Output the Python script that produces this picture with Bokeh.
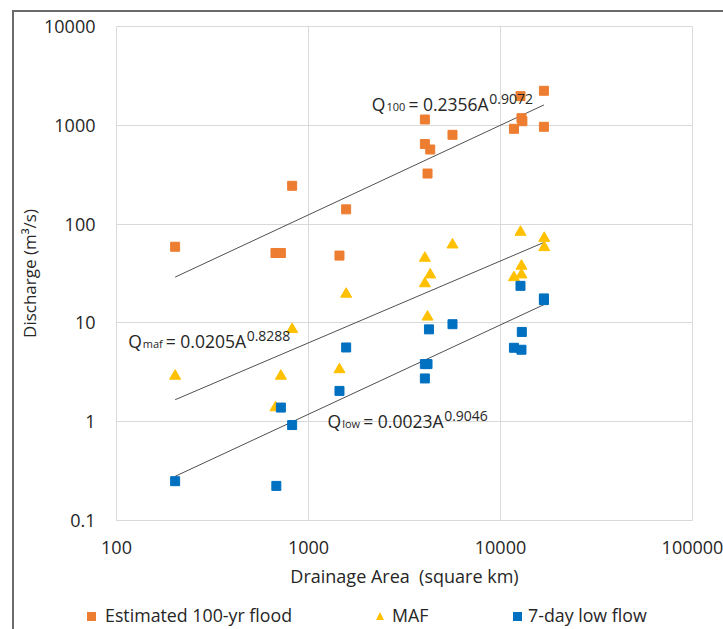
from bokeh.plotting import figure
from bokeh.models import (Range1d, FixedTicker, CustomJSTickFormatter, ColumnDataSource, Div)
from bokeh.layouts import column
from bokeh.core.properties import value
from bokeh.embed import file_html
from bokeh.resources import INLINE

# ---------------- data ----------------
flood_area = [202, 673, 718, 822, 1450, 1571, 4037, 4037, 4305, 4168, 5623, 11750, 12710, 12860, 13000, 16830, 16830]
flood_q = [59, 51, 51, 244, 48, 141, 1145, 646, 569, 325, 801, 922, 1973, 1180, 1100, 2234, 966]

maf_area = [202, 718, 673, 822, 1450, 1571, 4037, 4305, 4037, 5623, 4168, 12710, 12860, 12860, 11750, 16900, 16900]
maf_q = [2.9, 2.9, 1.39, 8.6, 3.37, 19.6, 45.3, 30.7, 25, 61.7, 11.5, 83, 37.6, 30.7, 28.8, 72, 58]

low_area = [202, 680, 718, 822, 1571, 1450, 4240, 5623, 4037, 4168, 4037, 12910, 11750, 12860, 12710, 16830, 16830]
low_q = [0.25, 0.224, 1.39, 0.925, 5.64, 2.05, 8.6, 9.7, 3.83, 3.83, 2.74, 8.1, 5.6, 5.35, 23.7, 17.7, 17.0]

# power-law fits  Q = c * A^b
fit_names = ["100", "maf", "low"]
fit_coef = [0.2356, 0.0205, 0.0023]
fit_exp = [0.9072, 0.8288, 0.9046]
fit_coef_text = ["0.2356", "0.0205", "0.0023"]
fit_exp_text = ["0.9072", "0.8288", "0.9046"]
# equation label anchors (data coords of the "Q" baseline start)
eq_anchor_area = [2138, 115, 1256]
eq_anchor_q = [1419, 5.73, 0.894]

x_ticks = [100, 1000, 10000, 100000]
x_tick_labels = ["100", "1000", "10000", "100000"]
y_ticks = [0.1, 1, 10, 100, 1000, 10000]
y_tick_labels = ["0.1", "1", "10", "100", "1000", "10000"]

legend_labels = ["Estimated 100-yr flood", "MAF", "7-day low flow"]

ORANGE = "#ED7D31"
GOLD = "#FFC000"
BLUE = "#0070C0"
TXT = "#262626"
FONT = "Open Sans"
W_FIG = 709
H_MAIN = 588
H_LEG = 29

p = figure(width=W_FIG, height=H_MAIN, x_axis_type="log", y_axis_type="log",
           x_range=Range1d(100, 100000), y_range=Range1d(0.1, 10000),
           output_backend="svg", toolbar_location=None,
           min_border_left=102, min_border_right=31, min_border_top=14, min_border_bottom=80)
p.background_fill_color = "white"
p.border_fill_color = "white"
p.outline_line_color = "#d9d9d9"
p.outline_line_width = 1

fmt_code = """
for (let j = 0; j < vals.length; j++) {
  if (Math.abs(vals[j] - tick) < 1e-6 * vals[j]) return labels[j];
}
return "";
"""
p.xaxis.ticker = FixedTicker(ticks=x_ticks, minor_ticks=[])
p.yaxis.ticker = FixedTicker(ticks=y_ticks, minor_ticks=[])
p.xaxis.formatter = CustomJSTickFormatter(args=dict(vals=x_ticks, labels=x_tick_labels), code=fmt_code)
p.yaxis.formatter = CustomJSTickFormatter(args=dict(vals=y_ticks, labels=y_tick_labels), code=fmt_code)

for ax in (p.xaxis, p.yaxis):
    ax.axis_line_color = None
    ax.major_tick_line_color = None
    ax.minor_tick_line_color = None
    ax.major_label_text_font = FONT
    ax.major_label_text_font_size = "18px"
    ax.major_label_text_color = TXT
    ax.axis_label_text_font = FONT
    ax.axis_label_text_font_style = "normal"
    ax.axis_label_text_color = TXT

p.yaxis.major_label_standoff = 15
p.yaxis.axis_label = "Discharge (m\u00b3/s)"
p.yaxis.axis_label_text_font_size = "17px"
p.yaxis.axis_label_standoff = 0
p.xaxis.major_label_standoff = 14
p.xaxis.axis_label = "Drainage Area\u00a0 (square km)"
p.xaxis.axis_label_text_font_size = "18px"
p.xaxis.axis_label_standoff = 7

p.xgrid.grid_line_color = "#d9d9d9"
p.ygrid.grid_line_color = "#d9d9d9"
p.xgrid.minor_grid_line_color = None
p.ygrid.minor_grid_line_color = None

# trend lines
all_areas = [flood_area, maf_area, low_area]
for c, b, areas in zip(fit_coef, fit_exp, all_areas):
    a0, a1 = min(areas), max(areas)
    p.line([a0, a1], [c * a0 ** b, c * a1 ** b], line_color="#505050", line_width=1)

p.scatter(flood_area, flood_q, marker="square", size=9, fill_color=ORANGE, line_color=ORANGE)
p.scatter(maf_area, maf_q, marker="triangle", size=11, fill_color=GOLD, line_color=GOLD)
p.scatter(low_area, low_q, marker="square", size=9, fill_color=BLUE, line_color=BLUE)

# equation labels (Q, subscript, main, superscript)
W = {'Q': 0.781, '.': 0.266, ' ': 0.26, '=': 0.572, 'A': 0.633, 'm': 0.92, 'a': 0.556,
     'f': 0.34, 'l': 0.258, 'o': 0.602, 'w': 0.788}
for d in "0123456789":
    W[d] = 0.572

def tw(s, size):
    return sum(W.get(ch, 0.55) for ch in s) * size

MAIN, SUB, SUP = 17.5, 11, 14
LIFT = -6
xs, ys, texts, xo, yo, sizes = [], [], [], [], [], []
for name, ct, et, ax_, ay_ in zip(fit_names, fit_coef_text, fit_exp_text, eq_anchor_area, eq_anchor_q):
    main = "= " + ct + "A"
    sub_off = tw("Q", MAIN) + 1.0
    main_off = sub_off + tw(name, SUB) + 3
    sup_off = main_off + tw(main, MAIN) + 0.5
    pieces = [("Q", MAIN, 0, 0), (name, SUB, 2.5, sub_off), (main, MAIN, 0, main_off), (et, SUP, -5, sup_off)]
    for txt, sz, dy, dx in pieces:
        xs.append(ax_); ys.append(ay_); texts.append(txt)
        xo.append(dx); yo.append(dy + LIFT); sizes.append(f"{sz}px")
src = ColumnDataSource(dict(x=xs, y=ys, text=texts, xo=xo, yo=yo, size=sizes))
p.text(x="x", y="y", text="text", x_offset="xo", y_offset="yo", text_font_size="size",
       text_font=value(FONT), text_color=TXT, text_baseline="alphabetic", text_align="left", source=src)

# ---------------- legend strip (below the plot, as in the Excel chart) ----------------
sq = "position:absolute;top:12px;width:9px;height:9px;"
lbl = "position:absolute;top:3px;line-height:24px;white-space:nowrap;"
legend_html = (
    f'<div style="position:relative;width:{W_FIG}px;height:{H_LEG}px;font-family:\'Open Sans\';'
    f'font-size:17.8px;color:{TXT};">'
    f'<span style="{sq}left:73px;background:{ORANGE};"></span>'
    f'<span style="{lbl}left:91px;">{legend_labels[0]}</span>'
    f'<span style="position:absolute;top:12px;left:362px;width:0;height:0;'
    f'border-left:4.5px solid transparent;border-right:4.5px solid transparent;'
    f'border-bottom:8px solid {GOLD};"></span>'
    f'<span style="{lbl}left:378px;">{legend_labels[1]}</span>'
    f'<span style="{sq}left:499px;background:{BLUE};"></span>'
    f'<span style="{lbl}left:514px;">{legend_labels[2]}</span>'
    '</div>'
)
leg = Div(text=legend_html, width=W_FIG, height=H_LEG, margin=0)

layout = column(p, leg, spacing=0, margin=(10, 0, 0, 12))
# outer chart border (top and left edges of the Excel chart area)
layout.styles = {"border-top": "2px solid #6b6b6b", "border-left": "2px solid #6b6b6b"}

open("out.html", "w").write(file_html(layout, INLINE))
